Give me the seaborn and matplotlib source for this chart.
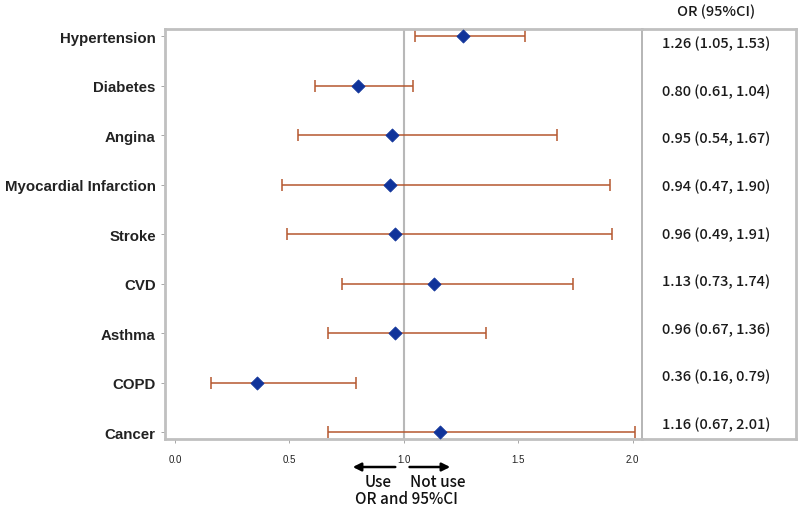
import matplotlib
matplotlib.use("Agg")
import matplotlib.pyplot as plt
import seaborn as sns
import pandas as pd

# data
labels = ["Hypertension", "Diabetes", "Angina", "Myocardial Infarction", "Stroke",
          "CVD", "Asthma", "COPD", "Cancer"]
odds = [1.26, 0.80, 0.95, 0.94, 0.96, 1.13, 0.96, 0.36, 1.16]
lower = [1.05, 0.61, 0.54, 0.47, 0.49, 0.73, 0.67, 0.16, 0.67]
upper = [1.53, 1.04, 1.67, 1.90, 1.91, 1.74, 1.36, 0.79, 2.01]
xticks = [0.0, 0.5, 1.0, 1.5, 2.0]

df = pd.DataFrame({"label": labels, "odds": odds, "lower": lower, "upper": upper})
df["row"] = range(len(df))

sns.set_style("white")
plt.rcParams["font.family"] = ["Liberation Sans", "DejaVu Sans"]
jp = ["Noto Sans CJK JP", "DejaVu Sans"]

fig = plt.figure(figsize=(8, 5.1), dpi=100)
ax2 = fig.add_axes([0.8025, 0.137, 0.1925, 0.804])
ax = fig.add_axes([0.206, 0.137, 0.596, 0.804])
ax.set_facecolor("none")

edge = "#c0c0c0"

# confidence intervals
ax.errorbar(df["odds"], df["row"],
            xerr=[df["odds"] - df["lower"], df["upper"] - df["odds"]],
            fmt="none", ecolor="#b5572f", elinewidth=1.1, capsize=4.5, capthick=1.1, zorder=2)
ax.axvline(1.0, color="#b8b8b8", lw=1.5, zorder=1)
sns.scatterplot(data=df, x="odds", y="row", marker="D", s=45, color="#10339a",
                edgecolor="#10339a", ax=ax, zorder=3, legend=False)

ax.set_xlim(-0.044, 2.039)
ax.set_ylim(8.14, -0.14)
ax.set_yticks(df["row"])
ax.set_yticklabels(labels, fontsize=10.8, fontweight="bold")
ax.set_xticks(xticks)
ax.set_xticklabels([f"{t:.1f}" for t in xticks], fontsize=7, color="#333333")
ax.set_xlabel("")
ax.set_ylabel("")
ax.tick_params(axis="both", which="both", direction="out", length=3, width=0.6,
               colors="#999999", labelcolor="#222222", bottom=True, left=True)
ax.tick_params(axis="x", pad=8)
for s in ["left", "bottom", "top"]:
    ax.spines[s].set_color(edge)
    ax.spines[s].set_linewidth(2)
ax.spines["right"].set_color("#b0b0b0")
ax.spines["right"].set_linewidth(1.3)

# OR panel
ax2.set_xlim(0, 1)
ax2.set_ylim(0, 1)
ax2.set_xticks([])
ax2.set_yticks([])
for s in ["right", "bottom", "top"]:
    ax2.spines[s].set_color(edge)
    ax2.spines[s].set_linewidth(2)
ax2.spines["left"].set_visible(False)
n = len(df)
for i in range(n):
    ax2.text(0.48, 0.966 - i * 0.929 / (n - 1),
             f"{odds[i]:.2f} ({lower[i]:.2f}, {upper[i]:.2f})",
             ha="center", va="center", fontsize=10.5, fontweight="medium",
             family=jp, color="#1a1a1a")
ax2.text(0.48, 1.045, "OR (95%CI)", ha="center", va="center",
         fontsize=10.5, fontweight="medium", family=jp, color="#1a1a1a")

# direction arrows under the axis
y_arr = -0.068
ax.annotate("", xy=(0.765, y_arr), xytext=(0.975, y_arr), xycoords=("data", "axes fraction"),
            arrowprops=dict(arrowstyle="-|>", color="black", lw=1.8, mutation_scale=12),
            annotation_clip=False)
ax.annotate("", xy=(1.215, y_arr), xytext=(1.013, y_arr), xycoords=("data", "axes fraction"),
            arrowprops=dict(arrowstyle="-|>", color="black", lw=1.8, mutation_scale=12),
            annotation_clip=False)
ax.text(0.89, -0.103, "Use", transform=ax.get_xaxis_transform(), ha="center", va="center",
        fontsize=11, fontweight="medium", family=jp, color="#111111")
ax.text(1.15, -0.103, "Not use", transform=ax.get_xaxis_transform(), ha="center", va="center",
        fontsize=11, fontweight="medium", family=jp, color="#111111")
ax.text(1.01, -0.146, "OR and 95%CI", transform=ax.get_xaxis_transform(), ha="center",
        va="center", fontsize=11, fontweight="medium", family=jp, color="#111111")

fig.savefig("out.png", dpi=100)
